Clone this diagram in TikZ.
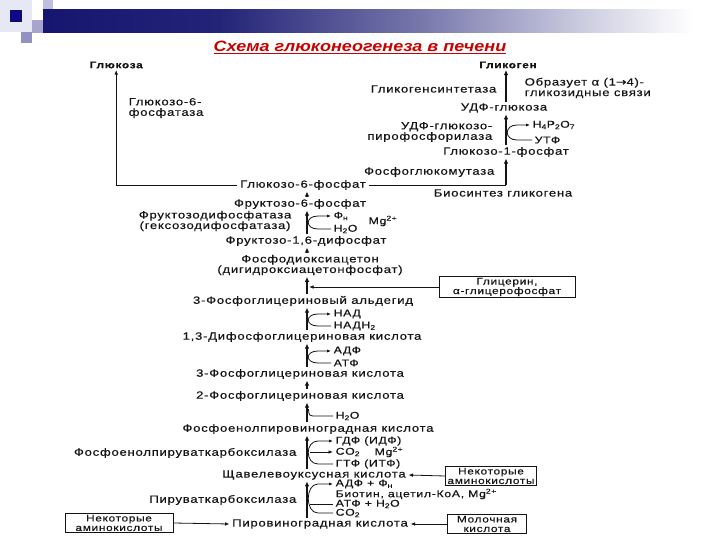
\documentclass[tikz,border=0pt]{standalone}
\usepackage{fontspec}
\setmainfont{Liberation Sans}
\newfontfamily\df{Liberation Sans}[FakeStretch=1.25,LetterSpace=7,FakeBold=0.35]
\newfontfamily\tf{Liberation Sans}[FakeStretch=1.2]
\newfontfamily\dv{DejaVu Sans}[FakeStretch=1.2,FakeBold=0.35]
\usetikzlibrary{arrows.meta,calc}
\definecolor{ink}{RGB}{20,20,20}
\definecolor{navyA}{RGB}{22,22,112}
\definecolor{navyB}{RGB}{35,35,120}
\definecolor{navyC}{RGB}{120,120,172}
\definecolor{navyD}{RGB}{205,205,225}
\definecolor{sqA}{RGB}{10,10,130}
\definecolor{sqB}{RGB}{190,190,222}
\definecolor{sqC}{RGB}{165,165,205}
\definecolor{sqD}{RGB}{145,145,195}
\definecolor{sqE}{RGB}{232,232,244}
\definecolor{ttl}{RGB}{200,0,0}
\pgfdeclarehorizontalshading{hdrshade}{100bp}{color(0bp)=(navyA); color(25bp)=(navyA); color(38bp)=(navyB); color(53bp)=(navyC); color(65bp)=(navyD); color(73bp)=(white); color(100bp)=(white)}
\newcommand\sidec[3]{%
  \draw[conn,-{Latex[length=4pt,width=3.2pt]}] (#2.west) -- (#2.west -| #3)
    .. controls ($(#2.west -| #3)+(-13,0)$) and ($(#1.west -| #3)+(-13,0)$) .. (#1.west -| #3) -- (#1.west);}
\begin{document}
\begin{tikzpicture}[x=1pt,y=-1pt,
  lbl/.style={inner xsep=2.5pt, inner ysep=1.5pt, text=ink, font=\df\fontsize{10.5}{10.5}\selectfont},
  side/.style={lbl, anchor=west, inner ysep=0.2pt, font=\df\fontsize{9.8}{10}\selectfont},
  hd/.style={lbl, font=\df\bfseries\fontsize{9.5}{10}\selectfont},
  tbox/.style={draw=ink, line width=0.9pt, align=center, inner xsep=2pt, inner ysep=1.5pt, text=ink, font=\df\fontsize{9.5}{9.5}\selectfont},
  conn/.style={draw=ink, line width=0.8pt},
  thinarr/.style={conn, -{Latex[length=4.5pt,width=3.6pt]}},
  mainarr/.style={draw=ink, line width=1.4pt, -{Latex[length=5pt,width=4.6pt]}},
  titletext/.style={inner sep=0pt, text=ttl, font=\tf\bfseries\itshape\fontsize{15}{16}\selectfont}]
\useasboundingbox (0,0) rectangle (720,540);
\fill[white] (0,0) rectangle (720,540);
% header decoration
\fill[sqE] (0,0) rectangle (32,32);
\fill[sqB] (43,0) rectangle (53,20);
\shade[shading=hdrshade] (43,10) rectangle (720,33);
\fill[sqC] (32,20) rectangle (43,33);
\fill[sqD] (21,32) rectangle (32,43);
\fill[sqA] (10,10) rectangle (22,22);
% title
\node[titletext] (title) at (360,46) {Схема глюконеогенеза в печени};
\draw[ttl, line width=1pt] ([yshift=-2pt]title.south west) -- ([yshift=-2pt]title.south east);

\coordinate (ax) at (307,0);
\coordinate (bx) at (506,0);
\coordinate (cxa) at (318,0);
\coordinate (cxb) at (517,0);

% upper part
\node[hd] (glycogen) at (508,65) {Гликоген};
\node[hd,anchor=west] (glucose) at (87,65) {Глюкоза};
\node[lbl,anchor=east] (gsyn) at (499,89) {Гликогенсинтетаза};
\node[lbl,anchor=west,align=left] (alpha) at (522,88) {Образует α (1{\dv→}4)-\\гликозидные связи};
\node[lbl] (udpg) at (504,108) {УДФ-глюкоза};
\node[side] (ppi) at (530,125) {H\textsubscript{4}P\textsubscript{2}O\textsubscript{7}};
\node[side] (utp) at (532,140) {УТФ};
\node[lbl,anchor=east,align=right] (udpgpp) at (495,132) {УДФ-глюкозо-\\пирофосфорилаза};
\node[lbl] (g1p) at (506,152) {Глюкозо-1-фосфат};
\node[lbl,anchor=east] (pgm) at (497,172) {Фосфоглюкомутаза};
\node[lbl] (biosyn) at (503,193) {Биосинтез гликогена};
\node[lbl,anchor=west,align=left] (g6pase) at (126,108) {Глюкозо-6-\\фосфатаза};

% main chain
\node[lbl] (g6p) at (303,185) {Глюкозо-6-фосфат};
\node[lbl] (f6p) at (300,204) {Фруктозо-6-фосфат};
\node[side] (pi1) at (331,216) {Ф\textsubscript{н}};
\node[side] (h2o1) at (331,229) {H\textsubscript{2}O};
\node[side] (mg1) at (366,221) {Mg\textsuperscript{2+}};
\node[lbl,anchor=east,align=center] (fbpase) at (294,221) {Фруктозодифосфатаза\\(гексозодифосфатаза)};
\node[lbl] (f16) at (306,241) {Фруктозо-1,6-дифосфат};
\node[lbl,align=center] (dhap) at (310,265) {Фосфодиоксиацетон\\(дигидроксиацетонфосфат)};
\node[tbox,minimum width=136pt] (glyc) at (507,287) {Глицерин,\\α-глицерофосфат};
\node[lbl] (gap) at (303,301) {3-Фосфоглицериновый альдегид};
\node[side] (nad) at (331,314) {НАД};
\node[side] (nadh) at (331,326) {НАДН\textsubscript{2}};
\node[lbl] (bpg) at (302,337) {1,3-Дифосфоглицериновая кислота};
\node[side] (adp1) at (331,351) {АДФ};
\node[side] (atp1) at (331,363) {АТФ};
\node[lbl] (pg3) at (300,374) {3-Фосфоглицериновая кислота};
\node[lbl] (pg2) at (300,396) {2-Фосфоглицериновая кислота};
\node[side] (h2o2) at (333,416) {H\textsubscript{2}O};
\node[lbl] (pep) at (308,429) {Фосфоенолпировиноградная кислота};
\node[side] (gdp) at (333,441) {ГДФ (ИДФ)};
\node[side] (co2a) at (333,452) {CO\textsubscript{2}};
\node[side] (mg2) at (372,452) {Mg\textsuperscript{2+}};
\node[side] (gtp) at (333,464) {ГТФ (ИТФ)};
\node[lbl,anchor=east] (pepck) at (299,453) {Фосфоенолпируваткарбоксилаза};
\node[lbl] (oaa) at (314,475) {Щавелевоуксусная кислота};
\node[tbox,minimum width=88pt] (aa1) at (491,476) {Некоторые\\аминокислоты};
\node[side] (adp2) at (333,484) {АДФ + Ф\textsubscript{н}};
\node[side] (biotin) at (333,494) {Биотин, ацетил-КоА, Mg\textsuperscript{2+}};
\node[side] (atp2) at (333,504) {АТФ + H\textsubscript{2}O};
\node[side] (co2b) at (333,513) {CO\textsubscript{2}};
\node[lbl,anchor=east] (pc) at (299,500) {Пируваткарбоксилаза};
\node[lbl] (pyr) at (320,524) {Пировиноградная кислота};
\node[tbox,minimum width=108pt] (aa2) at (119,523) {Некоторые\\аминокислоты};
\node[tbox,minimum width=79pt] (lac) at (487,524) {Молочная\\кислота};

% connectors: glucose and glycogen branches
\draw[thinarr] (g6p.west) -| (glucose.south);
\draw[conn] (g6p.east) -- (g6p.east -| bx);
\draw[mainarr] (g6p.east -| bx) -- (bx |- g1p.south);
\draw[mainarr] (bx |- g1p.north) -- (bx |- udpg.south);
\draw[mainarr] (bx |- udpg.north) -- (bx |- glycogen.south);
\sidec{ppi}{utp}{cxb}

% main chain
\draw[mainarr] (ax |- f6p.north) -- (ax |- g6p.south);
\draw[mainarr] (ax |- f16.north) -- (ax |- f6p.south);
\sidec{pi1}{h2o1}{cxa}
\draw[mainarr] (ax |- dhap.north) -- (ax |- f16.south);
\draw[mainarr] (ax |- gap.north) -- (ax |- dhap.south);
\draw[thinarr] (glyc.west) -- ($(glyc.west -| ax)+(2,0)$);
\draw[mainarr] (ax |- bpg.north) -- (ax |- gap.south);
\sidec{nad}{nadh}{cxa}
\draw[mainarr] (ax |- pg3.north) -- (ax |- bpg.south);
\sidec{adp1}{atp1}{cxa}
\draw[mainarr] (ax |- pg2.north) -- (ax |- pg3.south);
\draw[mainarr] (ax |- pep.north) -- (ax |- pg2.south);
\draw[conn] ($(h2o2.west -| ax)+(1.5,-7)$) .. controls ($(h2o2.west -| ax)+(2,0)$) .. ($(h2o2.west -| ax)+(10,0)$) -- (h2o2.west);
\draw[mainarr] (ax |- oaa.north) -- (ax |- pep.south);
\sidec{gdp}{gtp}{cxa}
\draw[thinarr] ($(co2a.west -| ax)+(3,0)$) -- (co2a.west);
\draw[thinarr] (aa1.west) -- (oaa.east);
\draw[mainarr] (ax |- pyr.north) -- (ax |- oaa.south);
\sidec{adp2}{co2b}{cxa}
\draw[conn] ($(atp2.west -| ax)+(3,0)$) -- (atp2.west);
\draw[thinarr] (aa2.east) -- (pyr.west);
\draw[thinarr] (lac.west) -- (pyr.east);
\end{tikzpicture}
\end{document}
